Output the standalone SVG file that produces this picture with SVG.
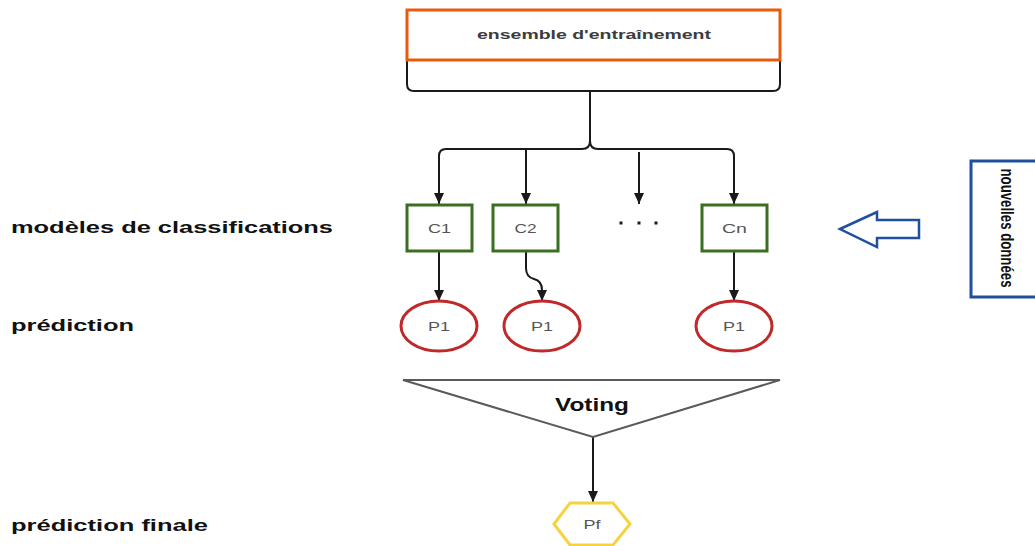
<svg xmlns="http://www.w3.org/2000/svg" width="1035" height="546" viewBox="0 0 1035 546">
  <style>
    .lbl { font-family: "Liberation Sans", Arial, sans-serif; font-weight: bold; font-size: 17px; fill: #111; }
    .node-txt { font-family: "Liberation Sans", Arial, sans-serif; font-size: 13.5px; fill: #555; text-anchor: middle; }
    .model { fill: #fff; stroke: #3a6e21; stroke-width: 3; }
    .pred { fill: #fff; stroke: #c0282a; stroke-width: 3; }
    .wire { fill: none; stroke: #1a1a1a; stroke-width: 2; }
  </style>
  <defs>
    <marker id="arrow" markerUnits="userSpaceOnUse" markerWidth="12" markerHeight="12" viewBox="0 0 12 12" refX="11" refY="6" orient="auto">
      <path d="M0,1 L11,6 L0,11 Z" fill="#1a1a1a"/>
    </marker>
  </defs>

  <rect width="1035" height="546" fill="#fff"/>

  <!-- row labels -->
  <g id="row-labels">
    <text class="lbl" x="11" y="233" textLength="322" lengthAdjust="spacingAndGlyphs">modèles de classifications</text>
    <text class="lbl" x="11" y="331" textLength="123" lengthAdjust="spacingAndGlyphs">prédiction</text>
    <text class="lbl" x="11" y="531" textLength="197" lengthAdjust="spacingAndGlyphs">prédiction finale</text>
  </g>

  <!-- connectors -->
  <g id="connectors">
    <!-- brace under the training set -->
    <path class="wire" d="M407,60 V84 Q407,91 414,91 H773 Q780,91 780,84 V60"/>
    <path class="wire" d="M590,91 V141 Q590,149 582,149 H446 Q439,149 439,156 V204" marker-end="url(#arrow)"/>
    <path class="wire" d="M590,141 Q590,149 598,149 H727 Q734,149 734,156 V204" marker-end="url(#arrow)"/>
    <path class="wire" d="M526,149 V204" marker-end="url(#arrow)"/>
    <path class="wire" d="M639,152 V204" marker-end="url(#arrow)"/>
    <!-- models to predictions -->
    <path class="wire" d="M439,252 V301" marker-end="url(#arrow)"/>
    <path class="wire" d="M526,252 V268 Q526,277 534,279 Q542,281 542,290 V301" marker-end="url(#arrow)"/>
    <path class="wire" d="M734,252 V301" marker-end="url(#arrow)"/>
    <!-- vote to final prediction -->
    <path class="wire" d="M593,437 V502" marker-end="url(#arrow)"/>
  </g>

  <!-- training set -->
  <g id="training-set">
    <rect x="407" y="10" width="373" height="50" fill="#fff" stroke="#e85a0c" stroke-width="3"/>
    <text x="594" y="39" font-family="Liberation Sans, Arial, sans-serif" font-weight="bold" font-size="13" fill="#3c3c3c" text-anchor="middle" textLength="234" lengthAdjust="spacingAndGlyphs">ensemble d'entraînement</text>
  </g>

  <!-- classifiers -->
  <g id="c1">
    <rect class="model" x="407" y="205" width="65" height="46"/>
    <text class="node-txt" x="439.5" y="233" textLength="23" lengthAdjust="spacingAndGlyphs">C1</text>
  </g>
  <g id="c2">
    <rect class="model" x="493" y="205" width="65" height="46"/>
    <text class="node-txt" x="525.5" y="233" textLength="22" lengthAdjust="spacingAndGlyphs">C2</text>
  </g>
  <g id="ellipsis">
    <rect x="619.5" y="221.5" width="3" height="3" fill="#1a1a1a"/>
    <rect x="637.5" y="221.5" width="3" height="3" fill="#1a1a1a"/>
    <rect x="654.5" y="221.5" width="3" height="3" fill="#1a1a1a"/>
  </g>
  <g id="cn">
    <rect class="model" x="702" y="205" width="65" height="46"/>
    <text class="node-txt" x="734.5" y="233" textLength="25" lengthAdjust="spacingAndGlyphs">Cn</text>
  </g>

  <!-- predictions -->
  <g id="p-c1">
    <ellipse class="pred" cx="439" cy="326" rx="38" ry="25"/>
    <text class="node-txt" x="439" y="331" textLength="22" lengthAdjust="spacingAndGlyphs">P1</text>
  </g>
  <g id="p-c2">
    <ellipse class="pred" cx="542" cy="326" rx="38" ry="25"/>
    <text class="node-txt" x="542" y="331" textLength="22" lengthAdjust="spacingAndGlyphs">P1</text>
  </g>
  <g id="p-cn">
    <ellipse class="pred" cx="734" cy="326" rx="38" ry="25"/>
    <text class="node-txt" x="734" y="331" textLength="22" lengthAdjust="spacingAndGlyphs">P1</text>
  </g>

  <!-- voting funnel -->
  <g id="voting">
    <polygon points="403,380 780,380 593,437" fill="#fff" stroke="#5a5a5a" stroke-width="2" stroke-linejoin="miter"/>
    <text x="592" y="411" font-family="Liberation Sans, Arial, sans-serif" font-weight="bold" font-size="18" fill="#111" text-anchor="middle" textLength="74" lengthAdjust="spacingAndGlyphs">Voting</text>
  </g>

  <!-- final prediction -->
  <g id="final">
    <polygon points="554,524 570,503 613,503 630,524 613,545 570,545" fill="#fff" stroke="#f6d33c" stroke-width="3"/>
    <text class="node-txt" x="592" y="529" textLength="17" lengthAdjust="spacingAndGlyphs">Pf</text>
  </g>

  <!-- new data input -->
  <g id="new-data">
    <rect x="971" y="161" width="70" height="136" fill="#fff" stroke="#1f4f9e" stroke-width="3"/>
    <text transform="translate(1001,228) rotate(90) scale(1,1.4)" x="0" y="0" font-family="Liberation Sans, Arial, sans-serif" font-weight="bold" font-size="13" fill="#111" text-anchor="middle" textLength="119" lengthAdjust="spacingAndGlyphs">nouvelles données</text>
  </g>
  <g id="input-arrow">
    <polygon points="840,229 877,212 877,220 919,220 919,238 877,238 877,247" fill="#fff" stroke="#1f4f9e" stroke-width="2.5" stroke-linejoin="miter"/>
  </g>
</svg>
